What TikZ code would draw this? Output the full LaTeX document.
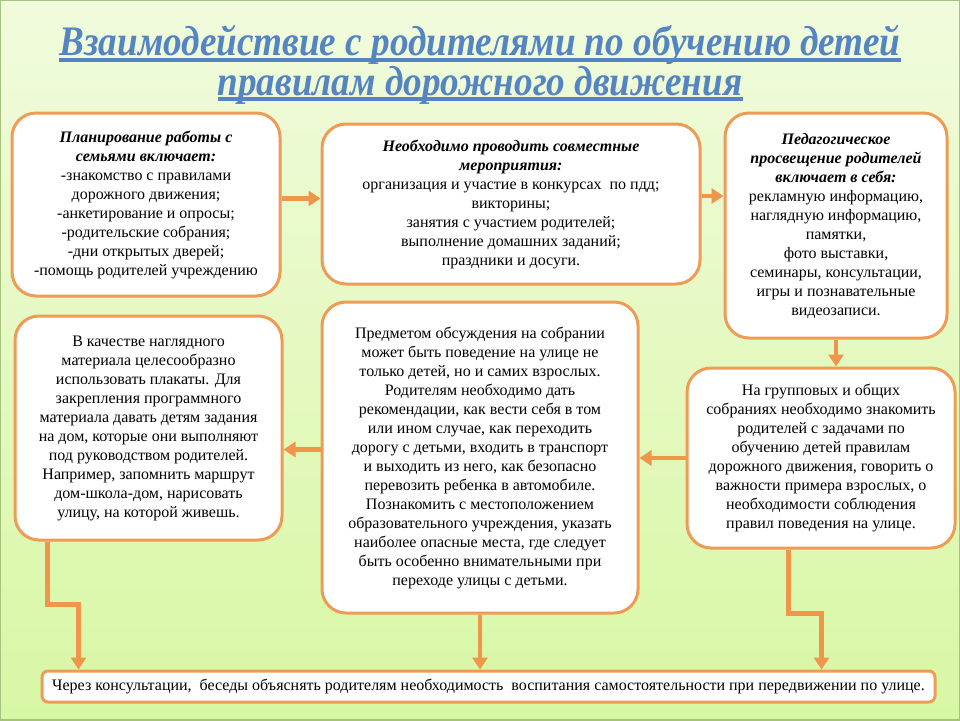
\documentclass[tikz,border=0pt]{standalone}
\usepackage{fontspec}
\setmainfont{Liberation Serif}
\usetikzlibrary{arrows.meta,positioning,calc}
\definecolor{bgtop}{HTML}{F1FBDD}
\definecolor{bgbottom}{HTML}{D8F7A4}
\definecolor{frameline}{HTML}{A7C27A}
\definecolor{edge}{HTML}{EE9C55}
\definecolor{pointer}{HTML}{F0964B}
\definecolor{heading}{HTML}{5584C4}
\newcommand{\cardhead}[1]{{\bfseries\itshape #1}}
\tikzset{
  card/.style={draw=edge,fill=white,line width=3pt,rounded corners=24pt,align=center,
    font=\fontsize{16}{19}\selectfont,inner sep=4pt},
  strip/.style={draw=edge,fill=white,line width=3pt,rounded corners=6pt,align=center,
    font=\fontsize{16}{19}\selectfont,inner sep=2pt},
  arrow/.style={-{Triangle[length=12pt,width=15pt]},draw=pointer,line width=4.5pt},
  headline/.style={font=\fontsize{42}{48}\selectfont\bfseries\itshape,text=heading,inner sep=0pt},
  underbar/.style={draw=heading,line width=3.5pt}
}
\begin{document}
\begin{tikzpicture}[x=1pt,y=-1pt]
  \useasboundingbox (0,0) rectangle (960,720);
  % background
  \shade[top color=bgtop,bottom color=bgbottom] (0,0) rectangle (960,720);
  \draw[frameline,line width=2.5pt] (0,0) rectangle (960,720);

  % title
  \node[headline,anchor=base] (title1) at (480,55)
    {\scalebox{0.885}[1]{Взаимодействие с родителями по обучению детей}};
  \node[headline,anchor=base] (title2) at (480,95)
    {\scalebox{0.885}[1]{правилам дорожного движения}};
  \draw[underbar] ([yshift=-5pt]title1.base west) -- ([yshift=-5pt]title1.base east);
  \draw[underbar] ([yshift=-4pt]title2.base west) -- ([yshift=-4pt]title2.base east);

  % top row
  \node[card,minimum width=268pt,minimum height=183pt] (plan) at (146,204.5)
    {\cardhead{Планирование работы с}\\\cardhead{семьями включает:}\\
     -знакомство с правилами\\дорожного движения;\\-анкетирование и опросы;\\
     -родительские собрания;\\-дни открытых дверей;\\-помощь родителей учреждению};
  \node[card,minimum width=378pt,minimum height=160pt] (events) at (511,204)
    {\cardhead{Необходимо проводить совместные}\\\cardhead{мероприятия:}\\
     организация и участие в конкурсах\ \ по пдд;\\викторины;\\
     занятия с участием родителей;\\выполнение домашних заданий;\\праздники и досуги.};
  \node[card,minimum width=222pt,minimum height=225pt] (pedagogy) at (836,225.5)
    {\cardhead{Педагогическое}\\\cardhead{просвещение родителей}\\\cardhead{включает в себя:}\\
     рекламную информацию,\\наглядную информацию,\\памятки,\\фото выставки,\\
     семинары, консультации,\\игры и познавательные\\видеозаписи.};

  % middle row
  \node[card,minimum width=267pt,minimum height=224pt] (visual) at (148.5,428)
    {В качестве наглядного\\материала целесообразно\\использовать плакаты. Для\\
     закрепления программного\\материала давать детям задания\\
     на дом, которые они выполняют\\под руководством родителей.\\
     Например, запомнить маршрут\\дом-школа-дом, нарисовать\\улицу, на которой живешь.};
  \node[card,minimum width=316pt,minimum height=311pt] (meeting) at (480,457.5)
    {Предметом обсуждения на собрании\\может быть поведение на улице не\\
     только детей, но и самих взрослых.\\Родителям необходимо дать\\
     рекомендации, как вести себя в том\\или ином случае, как переходить\\
     дорогу с детьми, входить в транспорт\\и выходить из него, как безопасно\\
     перевозить ребенка в автомобиле.\\Познакомить с местоположением\\
     образовательного учреждения, указать\\наиболее опасные места, где следует\\
     быть особенно внимательными при\\переходе улицы с детьми.};
  \node[card,minimum width=268pt,minimum height=180pt] (groups) at (821,458)
    {На групповых и общих\\собраниях необходимо знакомить\\родителей с задачами по\\
     обучению детей правилам\\дорожного движения, говорить о\\важности примера взрослых, о\\
     необходимости соблюдения\\правил поведения на улице.};

  % bottom strip
  \node[strip,minimum width=893pt,minimum height=31pt] (advice) at (488.5,686.5)
    {Через консультации,\ \ беседы объяснять родителям необходимость\ \ воспитания самостоятельности при передвижении по улице.};

  % arrows
  \draw[arrow] ([yshift=6pt]plan.east) -- ([yshift=6pt]plan.east -| events.west);
  \draw[arrow] ([yshift=8pt]events.east) -- ([yshift=8pt]events.east -| pedagogy.west);
  \draw[arrow] (pedagogy.south) -- (pedagogy.south |- groups.north);
  \draw[arrow] (groups.west) -- (groups.west -| meeting.east);
  \draw[arrow] ([yshift=8pt]meeting.west) -- ([yshift=8pt]meeting.west -| visual.east);
  \draw[arrow] ([xshift=34pt]visual.south west) -- ++(0,63) -| ([xshift=38pt]advice.north west);
  \draw[arrow] (meeting.south) -- (meeting.south |- advice.north);
  \draw[arrow] ([xshift=103pt]groups.south west) -- ++(0,64) -| ([xshift=-115pt]advice.north east);
\end{tikzpicture}
\end{document}
